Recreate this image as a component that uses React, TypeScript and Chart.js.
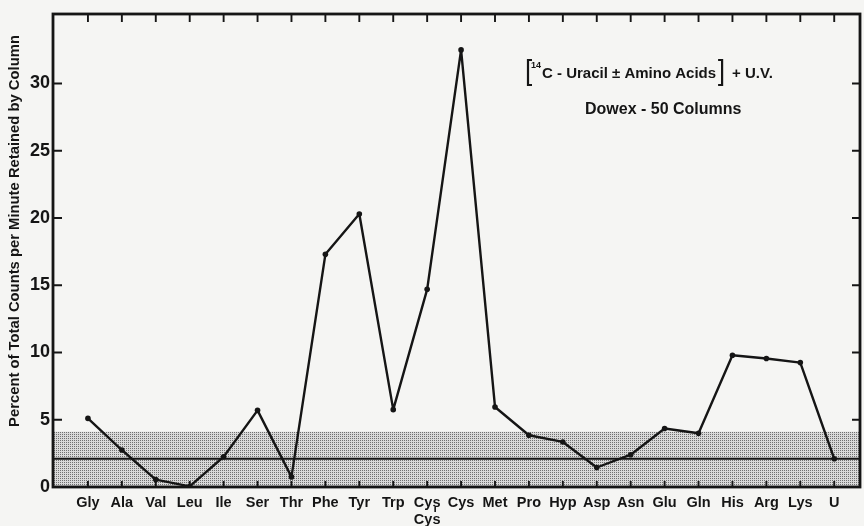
import React, { useEffect, useRef } from "react";
import { Chart, registerables } from "chart.js";
Chart.register(...registerables);

const categories: (string | string[])[] = [
  "Gly", "Ala", "Val", "Leu", "Ile", "Ser", "Thr", "Phe", "Tyr", "Trp",
  ["Cys", "Cys"], "Cys", "Met", "Pro", "Hyp", "Asp", "Asn", "Glu", "Gln",
  "His", "Arg", "Lys", "U",
];
const values = [
  5.1, 2.75, 0.55, 0.05, 2.25, 5.7, 0.75, 17.3, 20.3, 5.75, 14.7, 32.5, 5.95,
  3.85, 3.35, 1.45, 2.4, 4.35, 4.0, 9.8, 9.55, 9.25, 2.1,
];
const yTicks = [0, 5, 10, 15, 20, 25, 30];
const baselineValue = 2.1;
const bandTop = 4.1;
const xMin = -1.03;
const xMax = 22.76;
const yMax = 35.17;
const yTitle = "Percent of Total Counts per Minute Retained by Column";
const legendLine1 = "C - Uracil \u00B1 Amino Acids";
const legendSup = "14";
const legendTail = "+ U.V.";
const legendLine2 = "Dowex - 50 Columns";

const FONT = "'Liberation Sans', Arial, sans-serif";
const INK = "#151515";

function makePattern(): CanvasPattern | string {
  const c = document.createElement("canvas");
  c.width = 2;
  c.height = 2;
  const g = c.getContext("2d");
  if (!g) return "#bbbbbb";
  g.fillStyle = "#d9d9d9";
  g.fillRect(0, 0, 2, 2);
  g.fillStyle = "#707070";
  g.fillRect(0, 0, 1, 1);
  const p = g.createPattern(c, "repeat");
  return p || "#bbbbbb";
}

const decorPlugin = {
  id: "decor",
  beforeDraw(chart: any) {
    const { ctx, width, height } = chart;
    ctx.save();
    ctx.fillStyle = "#f5f5f3";
    ctx.fillRect(0, 0, width, height);
    ctx.restore();
  },
  afterDatasetsDraw(chart: any) {
    const { ctx, chartArea: a, scales } = chart;
    const xs = scales.x;
    const ys = scales.y;
    ctx.save();
    ctx.strokeStyle = INK;
    ctx.lineWidth = 2.8;
    ctx.strokeRect(a.left, a.top, a.right - a.left, a.bottom - a.top);
    ctx.lineWidth = 1.9;
    ctx.beginPath();
    yTicks.forEach((v) => {
      if (v === 0) return;
      const py = ys.getPixelForValue(v);
      ctx.moveTo(a.left, py);
      ctx.lineTo(a.left + 9, py);
      ctx.moveTo(a.right, py);
      ctx.lineTo(a.right - 8, py);
    });
    categories.forEach((_, i) => {
      const px = xs.getPixelForValue(i);
      ctx.moveTo(px, a.top);
      ctx.lineTo(px, a.top + 8);
      ctx.moveTo(px, a.bottom);
      ctx.lineTo(px, a.bottom - 6);
    });
    ctx.stroke();
    ctx.restore();
  },
  afterDraw(chart: any) {
    const { ctx, scales } = chart;
    ctx.save();
    ctx.fillStyle = INK;
    ctx.strokeStyle = INK;
    // y-axis title
    ctx.save();
    ctx.translate(15, 231);
    ctx.rotate(-Math.PI / 2);
    ctx.font = `bold 14.8px ${FONT}`;
    ctx.textAlign = "center";
    ctx.textBaseline = "middle";
    ctx.fillText(yTitle, 0, 0);
    ctx.restore();

    // Cys-S-S-Cys bond mark
    const cx = scales.x.getPixelForValue(10) + 8;
    ctx.lineWidth = 1.6;
    ctx.beginPath();
    ctx.moveTo(cx, 507);
    ctx.lineTo(cx, 512);
    ctx.stroke();

    // legend text
    const bx = 528;
    ctx.lineWidth = 2.2;
    ctx.beginPath();
    ctx.moveTo(bx + 4, 60);
    ctx.lineTo(bx, 60);
    ctx.lineTo(bx, 85);
    ctx.lineTo(bx + 4, 85);
    ctx.stroke();
    ctx.textBaseline = "alphabetic";
    ctx.textAlign = "left";
    ctx.font = `bold 9px ${FONT}`;
    ctx.fillText(legendSup, bx + 3, 68);
    ctx.font = `bold 15px ${FONT}`;
    ctx.fillText(legendLine1, 542, 78);
    const w = ctx.measureText(legendLine1).width;
    const ex = Math.max(542 + w + 6, 720);
    ctx.beginPath();
    ctx.moveTo(ex - 4, 60);
    ctx.lineTo(ex, 60);
    ctx.lineTo(ex, 85);
    ctx.lineTo(ex - 4, 85);
    ctx.stroke();
    ctx.fillText(legendTail, ex + 10, 78);
    ctx.font = `bold 16px ${FONT}`;
    ctx.fillText(legendLine2, 585, 114);
    ctx.restore();
  },
};

export default function App() {
  const ref = useRef<HTMLCanvasElement | null>(null);
  useEffect(() => {
    if (!ref.current) return;
    const pattern = makePattern();
    const chart = new Chart(ref.current, {
      type: "line",
      data: {
        datasets: [
          {
            data: values.map((v, i) => ({ x: i, y: v })),
            borderColor: INK,
            backgroundColor: INK,
            borderWidth: 2.4,
            borderJoinStyle: "round",
            borderCapStyle: "round",
            pointRadius: 2.8,
            pointBorderWidth: 0,
            tension: 0,
            fill: false,
          },
          {
            data: [
              { x: xMin, y: baselineValue },
              { x: xMax, y: baselineValue },
            ],
            borderColor: INK,
            borderWidth: 2,
            pointRadius: 0,
            fill: false,
          },
          {
            data: [
              { x: xMin, y: bandTop },
              { x: xMax, y: bandTop },
            ],
            borderWidth: 0,
            borderColor: "rgba(0,0,0,0)",
            backgroundColor: pattern as any,
            pointRadius: 0,
            fill: "origin",
          },
        ],
      },
      options: {
        animation: false,
        responsive: false,
        events: [],
        layout: { padding: { top: 14, right: 2, left: 0, bottom: 0 } },
        plugins: {
          legend: { display: false },
          tooltip: { enabled: false },
        },
        scales: {
          x: {
            type: "linear",
            min: xMin,
            max: xMax,
            grid: { display: false, drawTicks: false },
            border: { display: false },
            afterBuildTicks: (s: any) => {
              s.ticks = categories.map((_, i) => ({ value: i }));
            },
            afterFit: (s: any) => {
              s.height = 39;
            },
            ticks: {
              autoSkip: false,
              maxRotation: 0,
              padding: 7,
              color: INK,
              font: { family: FONT, size: 14.5, weight: "bold" },
              callback: (v: any) => categories[Number(v)] ?? "",
            },
          },
          y: {
            type: "linear",
            min: 0,
            max: yMax,
            grid: { display: false, drawTicks: false },
            border: { display: false },
            afterBuildTicks: (s: any) => {
              s.ticks = yTicks.map((v) => ({ value: v }));
            },
            afterFit: (s: any) => {
              s.width = 53;
            },
            ticks: {
              padding: 3,
              color: INK,
              font: { family: FONT, size: 18, weight: "bold" },
            },
          },
        },
      },
      plugins: [decorPlugin],
    });
    return () => chart.destroy();
  }, []);
  return (
    <div style={{ position: "absolute", left: 0, top: 0, width: 864, height: 526 }}>
      <canvas ref={ref} width={864} height={526} style={{ display: "block" }} />
    </div>
  );
}
